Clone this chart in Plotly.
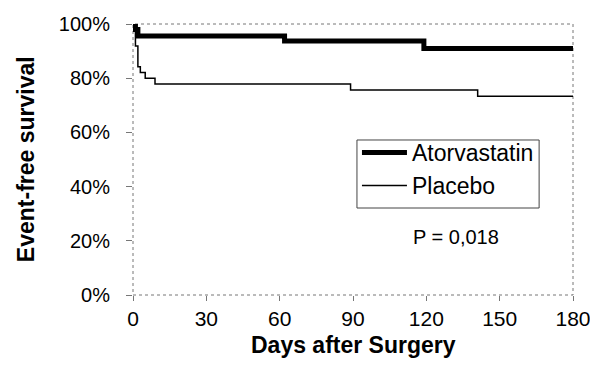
import plotly.graph_objects as go

# Kaplan-Meier step data (days, survival %)
atorva_days = [0, 1, 2, 62, 119, 180]
atorva_surv = [100, 98.0, 95.6, 93.7, 91.0, 91.0]

placebo_days = [0, 1, 2, 3, 5, 9, 89, 141, 180]
placebo_surv = [100, 91.9, 84.2, 82.1, 80.0, 77.9, 75.6, 73.3, 73.3]

x_ticks = [0, 30, 60, 90, 120, 150, 180]
y_ticks = [0, 20, 40, 60, 80, 100]
y_tick_labels = ["0%", "20%", "40%", "60%", "80%", "100%"]

font_family = "Liberation Sans, Arial, sans-serif"

fig = go.Figure()
fig.add_trace(go.Scatter(x=atorva_days, y=atorva_surv, mode="lines", name="Atorvastatin",
                         line=dict(color="black", width=5, shape="hv")))
fig.add_trace(go.Scatter(x=placebo_days, y=placebo_surv, mode="lines", name="Placebo",
                         line=dict(color="black", width=1.5, shape="hv")))

# plot frame (dotted) and legend box
fig.add_shape(type="rect", xref="paper", yref="paper", x0=0, y0=0, x1=1, y1=1,
              line=dict(color="#777777", width=1, dash="dot"), layer="below")
fig.add_shape(type="rect", xref="paper", yref="paper", x0=0.509, y0=0.321, x1=0.923, y1=0.572,
              line=dict(color="#444444", width=1))

fig.add_annotation(text="P = 0,018", x=0.734, y=0.214, xref="paper", yref="paper",
                   xanchor="center", yanchor="middle",
                   showarrow=False, font=dict(size=20, color="black", family=font_family))
fig.add_annotation(text="<b>Days after Surgery</b>", x=0.5, y=-0.185, xref="paper", yref="paper",
                   xanchor="center", yanchor="middle",
                   showarrow=False, font=dict(size=23, color="black", family=font_family))
fig.add_annotation(text="<b>Event-free survival</b>", x=-0.244, y=0.5, xref="paper", yref="paper",
                   xanchor="center", yanchor="middle",
                   textangle=-90, showarrow=False,
                   font=dict(size=23, color="black", family=font_family))

fig.update_layout(
    width=590, height=361,
    margin=dict(l=125, r=25, t=16, b=74),
    paper_bgcolor="white", plot_bgcolor="white",
    font=dict(family=font_family, color="black"),
    showlegend=True,
    legend=dict(x=0.509, y=0.605, xanchor="left", yanchor="top", itemwidth=45,
                borderwidth=0, bgcolor="rgba(0,0,0,0)",
                font=dict(size=23, family=font_family, color="black")),
    xaxis=dict(range=[0, 180], tickvals=x_ticks, ticks="outside", ticklen=5,
               tickcolor="#777777", showgrid=False, zeroline=False, showline=False,
               tickfont=dict(size=21), automargin=False),
    yaxis=dict(range=[0, 100], tickvals=y_ticks, ticktext=y_tick_labels, ticks="outside",
               ticklen=6, tickcolor="#777777", showgrid=False, zeroline=False, showline=False,
               tickfont=dict(size=20), automargin=False, ticklabelstandoff=12),
)

fig.write_html("out.html")
